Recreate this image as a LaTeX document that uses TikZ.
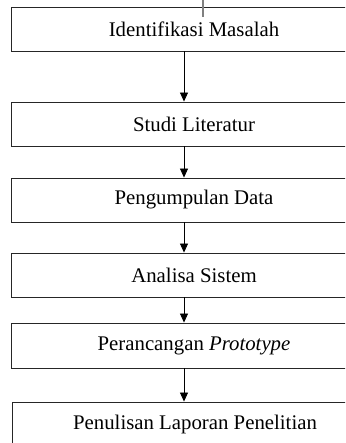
\documentclass[tikz,border=0pt]{standalone}
\usepackage{fontspec}
\setmainfont{Liberation Serif}
\usetikzlibrary{arrows.meta}
\begin{document}
\begin{tikzpicture}[x=1pt,y=1pt,
  stepbox/.style={draw=black!85, line width=0.9pt, minimum width=366pt, minimum height=44pt, inner sep=0pt, font=\fontsize{20.8}{25}\selectfont},
  arr/.style={-{Triangle[width=8pt,length=9pt]}, line width=0.8pt},
  caret/.style={draw=black!50, line width=1.5pt}]
\useasboundingbox (0,0) rectangle (345,443);
\clip (0,0) rectangle (345,443);
\node[stepbox] (b1) at (194,414) {Identifikasi Masalah};
\node[stepbox] (b2) at (194,319) {Studi Literatur};
\node[stepbox] (b3) at (194,243) {Pengumpulan Data};
\node[stepbox] (b4) at (194,168) {Analisa Sistem};
\node[stepbox, minimum height=45pt] (b5) at (194,97.5) {Perancangan \textit{Prototype}\hspace{11pt}};
\node[stepbox] (b6) at (195,19) {Penulisan Laporan Penelitian};
\coordinate (ax) at (184,0);
\draw[arr] (b1.south -| ax) -- (b2.north -| ax);
\draw[arr] (b2.south -| ax) -- (b3.north -| ax);
\draw[arr] (b3.south -| ax) -- (b4.north -| ax);
\draw[arr] (b4.south -| ax) -- (b5.north -| ax);
\draw[arr] (b5.south -| ax) -- (b6.north -| ax);
\coordinate (c1) at (203,443);
\coordinate (c2) at (203,426);
\draw[caret] (c1) -- (c2);
\end{tikzpicture}
\end{document}
